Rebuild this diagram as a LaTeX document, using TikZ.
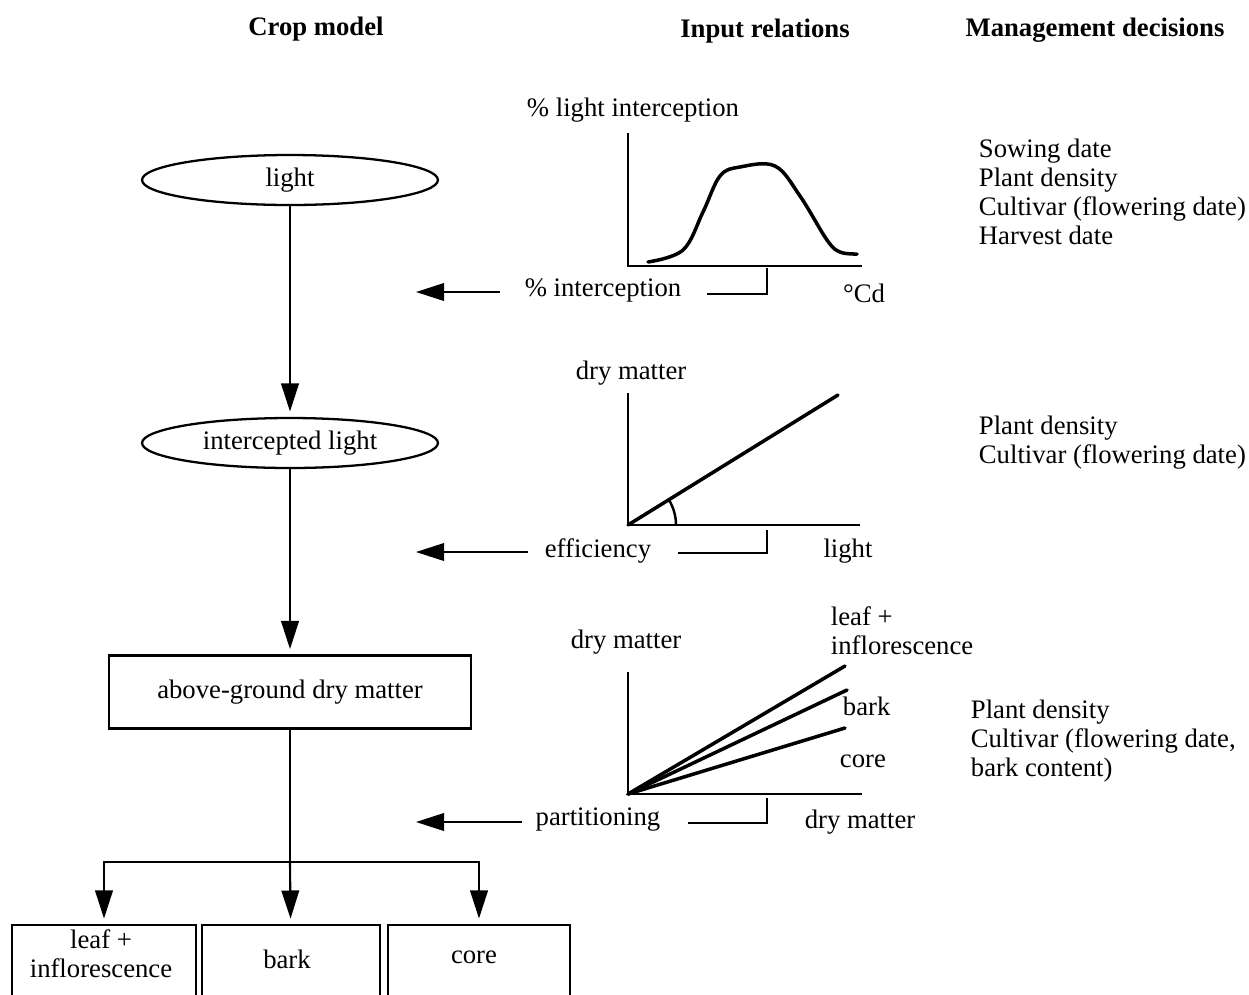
\documentclass[tikz,border=0pt]{standalone}
\usepackage{fontspec}
\setmainfont{Liberation Serif}
\usetikzlibrary{arrows.meta,shapes.geometric}

\tikzset{
  stage/.style={draw, ellipse, line width=1.3pt, inner sep=0pt,
    minimum width=5.92cm, minimum height=1cm},
  pool/.style={draw, rectangle, line width=1.3pt, inner sep=0pt},
  head/.style={font=\fontsize{15.2}{16.4}\selectfont\bfseries},
  mgmt/.style={anchor=west, align=left},
  axis/.style={line width=1.4pt},
  curve/.style={line width=2pt, line cap=round},
  flow/.style={line width=1.2pt, ->, shorten >=3pt}
}

\begin{document}
\begin{tikzpicture}[x=0.02cm, y=-0.02cm, font=\fontsize{15.2}{16.4}\selectfont,
  >={Triangle[length=16pt,width=10pt]}, line width=1.2pt]
\useasboundingbox (0,0) rectangle (1249,995);
\clip (0,0) rectangle (1249,995);

% headings
\node[head] (hcrop) at (316,29) {Crop model};
\node[head] (hinput) at (765,31) {Input relations};
\node[head] (hmgmt) at (1095,30) {Management decisions};

% crop model
\node[stage] (light) at (290,180) {light};
\node[stage] (ilight) at (290,443) {intercepted light};
\node[pool, minimum width=7.24cm, minimum height=1.46cm] (agdm) at (290,692) {above-ground dry matter};
\node[pool, minimum width=3.68cm, minimum height=1.6cm] (leaf) at (104,965) {};
\node[pool, minimum width=3.56cm, minimum height=1.6cm] (bark) at (291,965) {};
\node[pool, minimum width=3.64cm, minimum height=1.6cm] (core) at (479,965) {};
\node[align=center] (leaftxt) at (101,954) {leaf +\\inflorescence};
\node (barktxt) at (287,959) {bark};
\node (coretxt) at (474,957) {core};
\coordinate (split) at (290,862);

\draw[flow] (light) -- (ilight);
\draw[flow] (ilight) -- (agdm);
\draw (agdm) -- (split);
\draw[flow] (split) -| (leaf);
\draw[flow] (split) -- (bark);
\draw[flow] (split) -| (core);

% input relation 1: light interception
\node (yl1) at (633,110) {\% light interception};
\draw[axis] (628,133) -- (628,266) -- (862,266);
\draw[curve] plot[smooth, tension=0.6] coordinates {(648,262) (683,250) (703,212) (720,176) (740,167) (775,166) (800,196) (827,240) (840,252) (857,254)};
\node (xl1) at (864,293) {°Cd};
\node (interc) at (603,290) {\% interception};
\coordinate (b1) at (707,294);
\coordinate (t1) at (767,268);
\draw (b1) -| (t1);
\coordinate (a1) at (500,292);
\coordinate (e1) at (416,292);
\draw[->] (a1) -- (e1);

% input relation 2: efficiency
\node (yl2) at (631,373) {dry matter};
\draw[axis] (628,393) -- (628,525) -- (860,525);
\draw[curve] (628,525) -- (838,395);
\draw[axis] (676,525) arc[start angle=0, end angle=-31.8, radius=48];
\node (eff) at (598,551) {efficiency};
\node (xl2) at (848,551) {light};
\coordinate (b2) at (678,553);
\coordinate (t2) at (767,530);
\draw (b2) -| (t2);
\coordinate (a2) at (528,552);
\coordinate (e2) at (416,552);
\draw[->] (a2) -- (e2);

% input relation 3: partitioning
\node (yl3) at (626,642) {dry matter};
\draw[axis] (628,672) -- (628,794) -- (862,794);
\draw[curve] (628,794) -- (845,666);
\draw[curve] (628,794) -- (847,690);
\draw[curve] (628,794) -- (845,728);
\node[anchor=west, align=left] (leaflbl) at (824,631) {leaf +\\inflorescence};
\node[anchor=west] (barklbl) at (836,706) {bark};
\node[anchor=west] (corelbl) at (833,761) {core};
\node (xl3) at (860,822) {dry matter};
\node (part) at (598,820) {partitioning};
\coordinate (b3) at (688,823);
\coordinate (t3) at (767,798);
\draw (b3) -| (t3);
\coordinate (a3) at (522,822);
\coordinate (e3) at (416,822);
\draw[->] (a3) -- (e3);

% management decisions
\node[mgmt] (m1) at (972,192) {Sowing date\\Plant density\\Cultivar (flowering date)\\Harvest date};
\node[mgmt] (m2) at (972,443) {Plant density\\Cultivar (flowering date)};
\node[mgmt] (m3) at (964,741) {Plant density\\Cultivar (flowering date,\\bark content)};
\end{tikzpicture}
\end{document}
